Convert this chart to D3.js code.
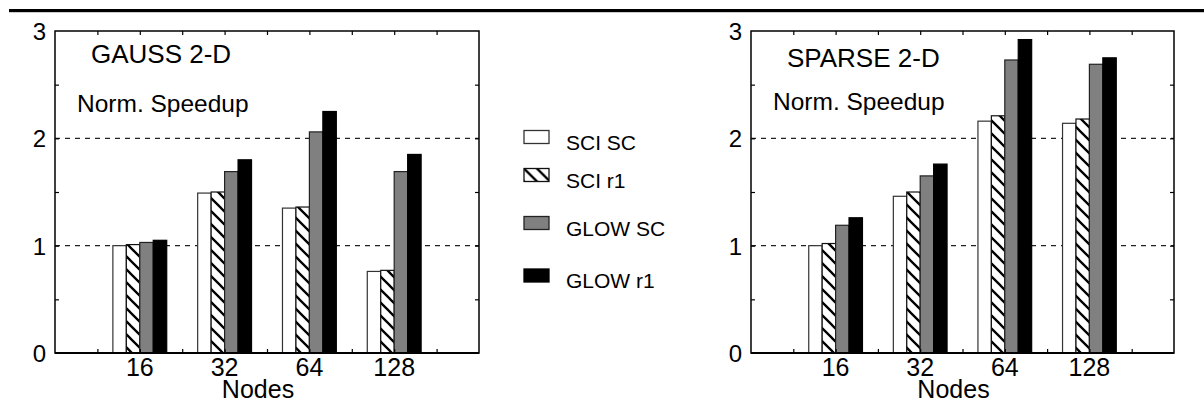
<!DOCTYPE html>
<html>
<head>
<meta charset="utf-8">
<script src="https://cdn.jsdelivr.net/npm/d3@7"></script>
<style>
  body { margin: 0; background: #fff; }
  svg { display: block; font-family: Arial, "Liberation Sans", sans-serif; }
</style>
</head>
<body>
<div id="chart"></div>
<script>
// values
const nodes = ['16', '32', '64', '128']
const series = ['SCI SC', 'SCI r1', 'GLOW SC', 'GLOW r1']
const yTicks = [0, 1, 2, 3]
const gridLevels = [1, 2]

const gaussSciSc = [1.00, 1.49, 1.35, 0.76]
const gaussSciR1 = [1.01, 1.50, 1.36, 0.77]
const gaussGlowSc = [1.03, 1.69, 2.06, 1.69]
const gaussGlowR1 = [1.05, 1.80, 2.25, 1.85]

const sparseSciSc = [1.00, 1.46, 2.16, 2.14]
const sparseSciR1 = [1.02, 1.50, 2.21, 2.18]
const sparseGlowSc = [1.19, 1.65, 2.73, 2.69]
const sparseGlowR1 = [1.26, 1.76, 2.92, 2.75]

const W = 1204, H = 402
const fills = ['#fff', 'url(#hatch)', '#808080', '#000']
const strokes = ['#333', '#111', '#222', '#000']

const svg = d3.select('#chart').append('svg').attr('width', W).attr('height', H)

const defs = svg.append('defs')
const pat = defs.append('pattern')
  .attr('id', 'hatch')
  .attr('patternUnits', 'userSpaceOnUse')
  .attr('width', 13).attr('height', 13)
pat.append('rect').attr('width', 13).attr('height', 13).attr('fill', '#fff')
pat.append('path')
  .attr('d', 'M-3,-3 L16,16 M-3,10 L3,16 M10,-3 L16,3')
  .attr('stroke', '#000').attr('stroke-width', 2.3)

// rule across the top
svg.append('rect').attr('x', 9).attr('y', 9).attr('width', W - 9).attr('height', 3.2).attr('fill', '#000')

function drawPanel(left, right, title, titleY, normY, cols) {
  const top = 31, bottom = 353
  const x = d3.scaleLinear().domain([0, 10]).range([left, right])
  const y = d3.scaleLinear().domain([0, 3]).range([bottom, top])
  const groupX = d3.scalePoint().domain(nodes).range([x(2), x(8)])
  const gw = x(1.27) - x(0)
  const inner = d3.scaleBand().domain(series).range([-gw / 2, gw / 2])

  const g = svg.append('g')

  // dashed grid behind bars
  g.selectAll('line.grid').data(gridLevels).join('line')
    .attr('class', 'grid')
    .attr('x1', left).attr('x2', right)
    .attr('y1', d => y(d)).attr('y2', d => y(d))
    .attr('stroke', '#222').attr('stroke-width', 1.2)
    .attr('stroke-dasharray', '5,5')

  // bars
  const rows = nodes.map((n, i) => series.map((s, k) => ({ n, s, k, v: cols[k][i] })))
  g.selectAll('g.grp').data(rows).join('g')
    .attr('class', 'grp')
    .selectAll('rect').data(d => d).join('rect')
    .attr('x', d => groupX(d.n) + inner(d.s))
    .attr('y', d => y(d.v))
    .attr('width', inner.bandwidth())
    .attr('height', d => y(0) - y(d.v))
    .attr('fill', d => fills[d.k])
    .attr('stroke', d => strokes[d.k])
    .attr('stroke-width', 1.2)

  // inward ticks
  const tickStyle = sel => {
    sel.select('.domain').remove()
    sel.selectAll('line').attr('stroke', '#000').attr('stroke-width', 1.2)
  }
  g.append('g').attr('transform', `translate(0,${bottom})`)
    .call(d3.axisBottom(x).tickValues(d3.range(1, 10)).tickSize(-4).tickFormat('')).call(tickStyle)
  g.append('g').attr('transform', `translate(0,${top})`)
    .call(d3.axisTop(x).tickValues(d3.range(1, 10)).tickSize(-4).tickFormat('')).call(tickStyle)
  g.append('g').attr('transform', `translate(${left},0)`)
    .call(d3.axisLeft(y).tickValues(d3.range(0.5, 3, 0.5)).tickSize(-4).tickFormat('')).call(tickStyle)
  g.append('g').attr('transform', `translate(${right},0)`)
    .call(d3.axisRight(y).tickValues(d3.range(0.5, 3, 0.5)).tickSize(-4).tickFormat('')).call(tickStyle)

  // frame
  g.append('rect')
    .attr('x', left).attr('y', top)
    .attr('width', right - left).attr('height', bottom - top)
    .attr('fill', 'none').attr('stroke', '#000').attr('stroke-width', 1.5)
  g.append('line')
    .attr('x1', left).attr('x2', right).attr('y1', bottom).attr('y2', bottom)
    .attr('stroke', '#000').attr('stroke-width', 2)

  // y labels
  g.selectAll('text.ylab').data(yTicks).join('text')
    .attr('class', 'ylab')
    .attr('x', left - 9).attr('y', d => y(d) + 9)
    .attr('text-anchor', 'end').attr('font-size', 24)
    .text(d => d)

  // x labels
  g.selectAll('text.xlab').data(nodes).join('text')
    .attr('class', 'xlab')
    .attr('x', d => groupX(d)).attr('y', 376)
    .attr('text-anchor', 'middle').attr('font-size', 25)
    .text(d => d)

  g.append('text')
    .attr('x', (left + right) / 2 - 9).attr('y', 398)
    .attr('text-anchor', 'middle').attr('font-size', 25)
    .text('Nodes')

  g.append('text').attr('x', left + 36).attr('y', titleY).attr('font-size', 26).text(title)
  g.append('text').attr('x', left + 22).attr('y', normY).attr('font-size', 24.5).text('Norm. Speedup')
}

drawPanel(55, 479, 'GAUSS 2-D', 63, 112, [gaussSciSc, gaussSciR1, gaussGlowSc, gaussGlowR1])
drawPanel(751, 1174, 'SPARSE 2-D', 67, 110, [sparseSciSc, sparseSciR1, sparseGlowSc, sparseGlowR1])

// legend
const legY = [130.5, 168.5, 216.5, 269]
const leg = svg.append('g').selectAll('g').data(series).join('g')
  .attr('transform', (d, i) => `translate(524,${legY[i]})`)
leg.append('rect')
  .attr('width', 25).attr('height', 13)
  .attr('fill', (d, i) => fills[i])
  .attr('stroke', (d, i) => strokes[i]).attr('stroke-width', 1.3)
leg.append('text')
  .attr('x', 42).attr('y', 19)
  .attr('font-size', 21)
  .text(d => d)
</script>
</body>
</html>
